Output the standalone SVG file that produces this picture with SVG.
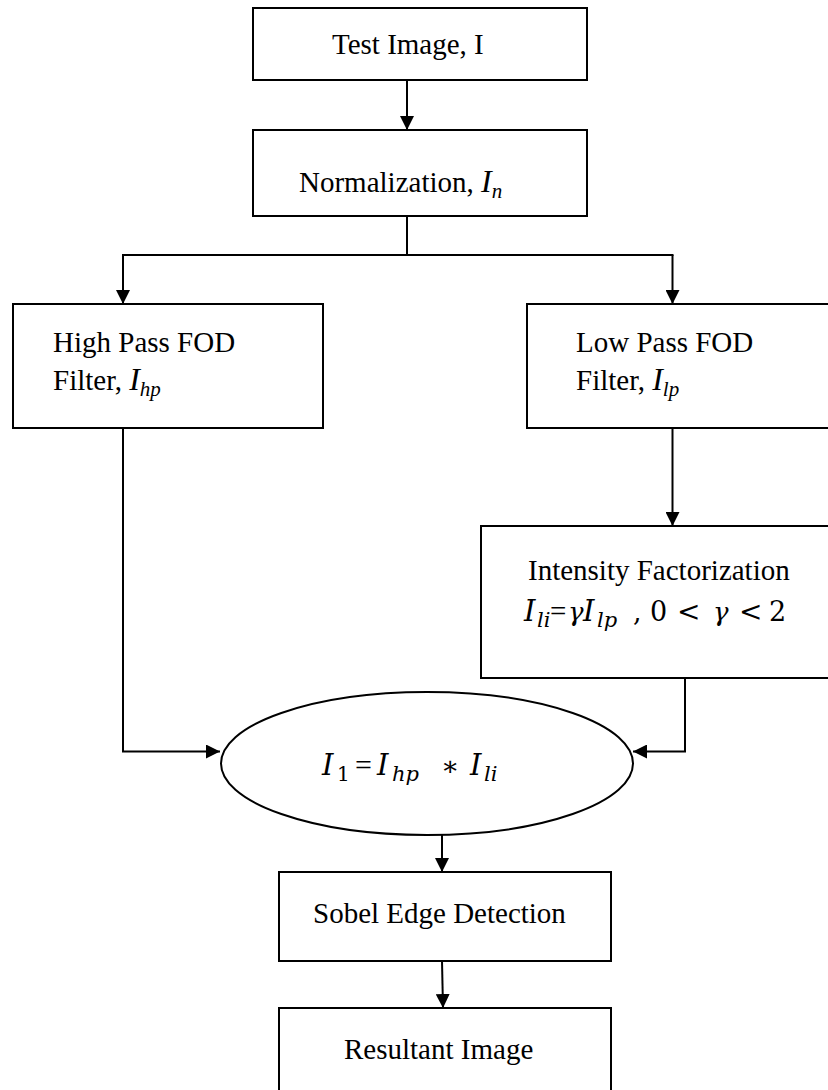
<svg xmlns="http://www.w3.org/2000/svg" width="828" height="1090" viewBox="0 0 828 1090">
<style>
.box{fill:#fff;stroke:#000;stroke-width:2}
text{font-family:"Liberation Serif","Times New Roman",serif;font-size:29px;fill:#000}
.m{font-style:italic;font-size:32px}
.s{font-size:21px;font-style:italic}
.dm{font-family:"DejaVu Serif",serif;font-style:italic;font-size:29px}
.ds{font-family:"DejaVu Serif",serif;font-style:italic;font-size:21px}
.dg{font-family:"DejaVu Serif",serif;font-style:italic;font-size:26px}
.du{font-family:"DejaVu Serif",serif;font-size:27px}
.d1{font-family:"DejaVu Serif",serif;font-size:20px}
.dl{font-family:"DejaVu Serif",serif;font-size:28px}
.c{fill:none;stroke:#000;stroke-width:2}
</style>
<defs>
<marker id="ah" markerUnits="userSpaceOnUse" markerWidth="14" markerHeight="14" refX="14" refY="7" orient="auto">
<path d="M0,0 L14,7 L0,14 z" fill="#000"/>
</marker>
</defs>
<g id="connectors">
<line class="c" x1="407" y1="80" x2="407" y2="130" marker-end="url(#ah)"/>
<line class="c" x1="407" y1="216" x2="407" y2="255"/>
<line class="c" x1="122" y1="255" x2="673.5" y2="255"/>
<line class="c" x1="123" y1="255" x2="123" y2="304" marker-end="url(#ah)"/>
<line class="c" x1="672.5" y1="255" x2="672.5" y2="304" marker-end="url(#ah)"/>
<line class="c" x1="672.5" y1="428" x2="672.5" y2="526" marker-end="url(#ah)"/>
<polyline class="c" points="123,428 123,751.5 220,751.5" marker-end="url(#ah)"/>
<polyline class="c" points="685,678 685,751.5 633,751.5" marker-end="url(#ah)"/>
<line class="c" x1="442" y1="835" x2="442" y2="872" marker-end="url(#ah)"/>
<line class="c" x1="442" y1="961" x2="443" y2="1008" marker-end="url(#ah)"/>
</g>
<g id="test-image">
<rect class="box" x="253" y="8" width="334" height="72"/>
<text x="332" y="54">Test Image, I</text>
</g>
<g id="normalization">
<rect class="box" x="253" y="130" width="334" height="86"/>
<text x="299" y="192">Normalization, <tspan class="m">I</tspan><tspan class="s" dy="6">n</tspan></text>
</g>
<g id="high-pass">
<rect class="box" x="13" y="304" width="310" height="124"/>
<text x="53" y="352">High Pass FOD</text>
<text x="53" y="390">Filter, <tspan class="m">I</tspan><tspan class="s" dy="6">hp</tspan></text>
</g>
<g id="low-pass">
<rect class="box" x="527" y="304" width="320" height="124"/>
<text x="576" y="352">Low Pass FOD</text>
<text x="576" y="390">Filter, <tspan class="m">I</tspan><tspan class="s" dy="6">lp</tspan></text>
</g>
<g id="intensity">
<rect class="box" x="481" y="526" width="366" height="152"/>
<text x="528" y="580">Intensity Factorization</text>
<text y="621"><tspan class="dm" x="524">I</tspan><tspan class="ds" x="537" y="627">li</tspan><tspan x="550" y="621">=</tspan><tspan class="dg" x="568">γ</tspan><tspan class="dm" x="583">I</tspan><tspan class="ds" x="597" y="627">lp</tspan><tspan class="du" x="633" y="621">,</tspan><tspan class="du" x="650">0</tspan><tspan class="dl" x="677">&lt;</tspan><tspan class="dg" x="713">γ</tspan><tspan class="dl" x="739">&lt;</tspan><tspan class="du" x="769">2</tspan></text>
</g>
<g id="product">
<ellipse class="box" cx="427" cy="763.5" rx="206" ry="71.5"/>
<text y="775"><tspan class="dm" x="322">I</tspan><tspan class="d1" x="337" y="781">1</tspan><tspan x="355" y="775" font-size="30">=</tspan><tspan class="dm" x="377">I</tspan><tspan class="ds" x="392" y="781">hp</tspan><tspan class="du" x="441" y="775">∗</tspan><tspan class="dm" x="470">I</tspan><tspan class="ds" x="484" y="781">li</tspan></text>
</g>
<g id="sobel">
<rect class="box" x="279" y="872" width="332" height="89"/>
<text x="313" y="923">Sobel Edge Detection</text>
</g>
<g id="resultant">
<rect class="box" x="279" y="1008" width="332" height="100"/>
<text x="344" y="1059">Resultant Image</text>
</g>
</svg>
